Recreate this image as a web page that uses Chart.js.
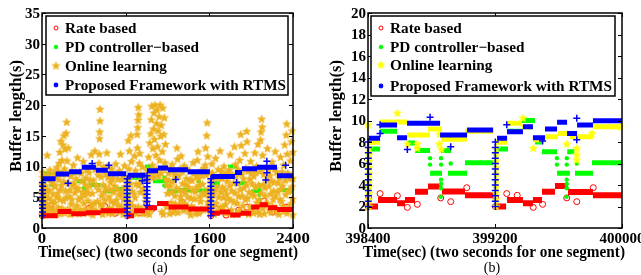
<!DOCTYPE html>
<html><head><meta charset="utf-8">
<script src="https://cdn.jsdelivr.net/npm/chart.js@4.4.1/dist/chart.umd.min.js"></script>
<style>
html,body{margin:0;padding:0;background:#fff;}
body{width:641px;height:275px;overflow:hidden;position:relative;}
canvas{position:absolute;top:0;}
#ca{left:0;}
#cb{left:320px;}
</style></head>
<body>
<canvas id="ca" width="320" height="275"></canvas>
<canvas id="cb" width="321" height="275"></canvas>
<script>
// ---------- shared labels ----------
const seriesNames = ['Rate based', 'PD controller\u2212based', 'Online learning', 'Proposed Framework with RTMS'];
const xTitle = 'Time(sec) (two seconds for one segment)';
const yTitle = 'Buffer length(s)';

// ---------- panel (a) ----------
const xTicksA = [0, 800, 1600, 2400];
const yTicksA = [0, 5, 10, 15, 20, 25, 30, 35];
// bands: [tStart, tEnd, value]
const rateBandsA = [[0,150,2.0],[150,280,2.7],[280,420,2.3],[420,560,2.5],[560,805,2.8],
  [813,880,2.0],[880,985,2.8],[985,1100,3.3],[1100,1210,4.0],[1210,1400,3.4],[1400,1605,3.1],
  [1613,1700,2.4],[1700,1800,2.6],[1800,1900,2.1],[1900,2000,2.4],[2000,2080,3.4],[2080,2160,3.8],[2160,2250,3.3],[2250,2400,3.0]];
const ratePtsA = [[3,2.0],[815,2.0],[1615,2.0],[60,3.3],[80,3.6],[170,3.0],[300,2.5],[450,3.2],[600,3.5],[700,2.4],[870,3.3],[930,2.5],[1000,3.9],[1060,3.2],[1250,2.9],[1340,4.2],[1500,2.6],[1660,3.1],[1760,2.1],[1880,2.9],[1960,3.4],[2120,4.4],[2200,2.6],[2330,3.4]];
const pdBandsA = [[20,90,8.9],[260,330,9.0],[330,420,7.6],[450,560,7.0],[600,700,6.0],[700,800,6.4],
  [830,950,8.2],[985,1060,10.0],[1060,1195,7.6],[1195,1300,6.0],[1300,1400,6.2],[1400,1600,6.1],
  [1620,1700,7.3],[1780,1865,10.0],[1865,1960,7.3],[2000,2100,6.0],[2275,2400,6.2]];
const pdPtsA = [[10,2.0],[10,3.0],[10,4.0],[10,5.0],[10,6.0],[10,7.0],[820,2.5],[820,3.5],[820,4.5],[820,5.5],[820,6.5],[820,7.5],
  [1620,2.5],[1620,3.5],[1620,4.5],[1620,5.5],[1620,6.5],[1170,6.9],[1170,8.2],[2080,7.0],[2080,6.2],[2080,5.4],[2080,4.6],[2380,6.0],[95,7.0],[400,6.5],[1500,7.6]];
const onlineA = [
 [5,2.1],[5,3.4],[5,4.6],[5,5.8],[5,7.0],[8,8.2],[10,9.0],
 [25,2.3],[30,5.2],[35,6.8],[40,3.9],[50,11.8],[55,8.6],[60,2.2],[62,4.8],[70,6.1],[75,9.4],[85,3.1],[90,7.4],[100,2.4],[105,5.5],[110,8.9],[120,4.1],[125,6.7],[135,2.2],[140,9.8],[145,5.0],
 [155,3.3],[160,7.8],[165,10.5],[170,12.3],[175,6.2],[180,14.1],[185,2.5],[190,11.0],[195,8.7],[200,13.5],[205,4.4],[210,15.0],[215,9.6],[220,12.8],[225,6.0],[230,15.4],[236,17.2],[240,10.9],[245,3.0],[250,13.0],[255,7.3],[260,5.1],
 [270,2.2],[275,8.4],[285,4.6],[295,6.9],[300,10.2],[310,2.9],[315,5.7],[325,8.0],[335,3.6],[340,11.4],[345,6.4],[355,2.3],[360,9.1],[370,4.9],[380,7.6],[390,2.6],[395,10.8],
 [405,5.3],[410,3.0],[420,8.1],[425,6.0],[435,2.4],[440,4.4],[450,9.0],[455,6.8],[465,3.3],[470,11.9],[480,5.6],[485,2.1],[490,7.7],[500,4.0],[505,12.5],[510,9.5],[515,2.8],
 [540,6.2],[545,10.5],[548,12.0],[550,14.5],[552,15.6],[555,17.4],[555,19.3],[560,3.8],[565,8.3],[570,5.2],[580,2.2],[585,7.0],[590,9.9],[600,4.5],[605,6.6],[615,2.7],[620,12.2],[625,10.0],[630,8.2],[640,5.0],[645,3.2],[655,7.4],[665,9.6],[670,2.3],[680,5.8],[690,4.0],[700,8.8],[705,10.4],[715,2.6],[720,6.3],[730,3.7],[740,9.3],[750,12.0],[755,5.4],[765,7.9],[775,2.2],[780,4.6],[790,10.1],[795,6.7],
 [815,2.4],[815,3.8],[815,5.1],[815,6.5],[820,7.8],[825,14.2],[830,9.6],[835,12.5],[840,4.2],[850,15.0],[855,10.8],[860,6.0],[870,2.7],[875,8.5],[885,11.7],[890,4.9],[900,7.1],[905,2.3],[910,15.2],[912,13.0],[915,16.3],[918,17.5],[920,19.6],[925,18.4],[930,10.5],[935,12.1],[940,5.8],[945,8.6],[955,3.1],[960,9.9],[970,6.4],[980,2.5],[990,4.3],[1000,8.0],
 [1010,9.4],[1020,11.5],[1025,2.2],[1030,13.8],[1035,8.7],[1040,15.3],[1045,17.6],[1050,19.8],[1055,10.2],[1060,12.9],[1065,16.1],[1070,18.7],[1075,14.4],[1080,20.0],[1085,9.1],[1090,11.8],[1095,17.0],[1100,19.2],[1105,13.2],[1110,15.8],[1115,8.4],[1120,18.1],[1125,11.0],[1130,20.0],[1135,14.9],[1140,16.7],[1145,2.6],[1150,12.4],[1155,19.5],[1160,9.7],[1165,15.2],[1170,17.9],[1175,10.6],[1180,13.6],[1185,7.9],[1190,3.4],
 [1200,5.6],[1210,8.9],[1220,2.3],[1225,6.8],[1235,4.1],[1245,10.3],[1250,7.5],[1260,3.0],[1270,5.2],[1280,8.3],[1290,13.0],[1295,11.2],[1300,2.5],[1310,6.1],[1320,9.6],[1330,11.7],[1335,4.4],[1345,7.2],[1355,2.8],[1360,10.1],[1370,5.7],[1380,8.0],[1390,3.5],[1400,6.6],[1410,9.2],[1420,2.1],[1425,4.8],[1435,7.7],[1445,10.6],
 [1455,3.2],[1465,5.9],[1475,8.4],[1485,11.0],[1492,12.4],[1500,2.4],[1505,6.9],[1515,4.3],[1525,9.3],[1535,7.1],[1545,2.9],[1555,5.4],[1560,10.2],[1565,13.0],[1570,8.6],[1575,15.0],[1580,17.1],[1585,11.6],[1590,6.3],[1595,3.6],[1600,9.0],
 [1615,2.3],[1615,3.6],[1615,4.9],[1618,6.2],[1620,7.5],[1625,10.4],[1635,5.3],[1645,2.2],[1650,8.2],[1660,11.3],[1665,4.0],[1675,6.7],[1685,9.5],[1695,2.8],[1702,12.5],[1710,5.8],[1720,8.0],[1730,3.4],[1740,10.0],[1750,6.2],[1760,2.4],[1770,7.6],[1780,4.7],[1790,9.4],
 [1800,11.9],[1810,2.9],[1815,6.0],[1825,8.6],[1835,4.2],[1840,13.2],[1850,10.3],[1860,2.3],[1870,7.2],[1880,5.1],[1890,11.0],[1900,15.2],[1905,13.4],[1910,8.8],[1920,3.6],[1930,6.5],[1940,12.1],[1950,9.7],[1957,15.7],[1960,14.0],[1965,4.8],[1975,2.2],[1985,7.9],[1995,10.8],
 [2005,5.5],[2015,3.0],[2025,8.4],[2035,12.2],[2040,6.6],[2050,10.0],[2060,2.6],[2065,13.6],[2075,4.5],[2085,9.2],[2090,14.3],[2095,15.6],[2100,17.7],[2105,16.4],[2110,11.8],[2115,7.0],[2125,2.3],[2135,5.2],[2145,9.9],[2155,12.9],[2160,3.9],[2170,6.8],[2180,8.5],[2190,2.5],[2200,10.7],[2210,4.6],[2220,7.4],[2230,12.4],[2240,3.1],[2245,9.0],
 [2255,5.9],[2265,2.2],[2270,8.1],[2280,11.5],[2290,4.3],[2300,6.8],[2310,10.2],[2315,2.7],[2320,13.5],[2330,5.4],[2335,15.1],[2340,16.9],[2345,12.0],[2350,8.9],[2360,3.3],[2365,6.1],[2375,10.9],[2385,14.0],[2390,15.8],[2395,4.7],[2398,2.1],[2398,8.0],[2398,12.3],
 [15,4.0],[18,6.2],[28,8.1],[45,2.8],[48,5.9],[65,3.5],[80,7.9],[95,4.4],[115,2.9],[118,6.9],[130,8.2],[150,5.6],[158,9.2],[168,2.3],[172,4.6],[188,6.9],[198,3.1],[208,7.5],[218,2.4],[228,4.9],[248,8.8],[265,6.1],[280,3.8],[290,9.2],[305,7.2],[320,2.4],[330,6.3],[350,4.6],[365,2.9],[375,8.9],[385,5.8],[400,4.0],[415,7.0],[430,9.4],[445,5.6],[460,7.8],[475,3.8],[495,2.8],[520,6.9],[530,4.3],[535,8.6],[575,3.6],[595,5.8],[610,8.7],[635,2.4],[650,6.3],[660,4.3],[675,8.0],[685,2.9],[695,6.8],[710,4.5],[725,7.9],[735,5.4],[745,2.8],[760,3.4],[770,6.0],[785,8.3],[800,3.0],
 [845,7.2],[865,3.6],[880,5.5],[895,9.3],[920,3.4],[925,6.9],[950,7.6],[965,2.3],[975,8.6],[985,5.4],[995,2.4],[1015,7.9],[1038,3.0],[1068,8.2],[1100,9.6],[1140,8.9],[1160,2.2],[1188,9.8],[1195,6.9],[1205,3.6],[1215,7.7],[1230,9.5],[1240,5.8],[1255,2.5],[1265,8.8],[1275,3.9],[1285,6.5],[1305,8.4],[1315,3.7],[1325,5.1],[1340,9.1],[1350,6.0],[1365,3.9],[1375,7.0],[1385,9.6],[1395,5.0],[1405,2.7],[1415,7.8],[1430,3.5],[1440,6.1],[1450,8.9],[1460,4.7],[1470,2.3],[1480,6.6],[1495,8.0],[1510,5.1],[1520,3.0],[1530,8.5],[1540,5.7],[1550,9.7],[1585,4.2],[1605,5.5],
 [1630,8.9],[1640,3.6],[1655,6.0],[1670,2.6],[1680,8.1],[1690,5.0],[1705,3.3],[1715,9.2],[1725,6.6],[1735,4.9],[1745,8.6],[1755,3.8],[1765,5.5],[1775,9.0],[1785,2.6],[1795,6.8],[1805,4.5],[1820,2.2],[1830,7.3],[1845,5.7],[1855,8.4],[1865,4.0],[1875,9.5],[1885,2.8],[1895,6.2],[1915,5.2],[1925,8.0],[1935,2.5],[1945,4.6],[1955,7.0],[1970,9.2],[1980,5.8],[1990,3.4],[2000,8.9],[2010,7.2],[2020,2.4],[2030,5.2],[2045,9.0],[2055,4.1],[2070,6.9],[2080,2.2],[2095,5.6],[2110,3.2],[2120,8.7],[2130,6.5],[2140,4.0],[2150,7.8],[2165,9.4],[2175,2.9],[2185,5.5],[2195,7.6],[2205,3.5],[2215,6.0],[2225,9.6],[2235,5.2],[2250,2.5],[2260,7.3],[2275,4.6],[2285,6.3],[2295,9.1],[2305,3.5],[2325,7.7],[2340,2.4],[2355,5.9],[2370,8.0],[2380,3.9],[2390,6.7]
];
const propBandsA = [[5,130,8.0],[130,260,8.8],[260,380,9.15],[380,515,9.9],[515,630,9.4],[630,805,8.85],
  [818,990,8.6],[1004,1109,9.3],[1109,1205,9.75],[1205,1396,9.5],[1396,1605,9.15],
  [1618,1845,8.4],[1845,1912,9.05],[1912,2056,9.65],[2056,2247,9.9],[2247,2400,8.5]];
const propPtsA = [[5,2.0],[5,2.6],[5,3.2],[5,3.8],[5,4.4],[5,5.0],[5,5.6],[5,6.2],[5,6.8],[5,7.4],
  [815,2.0],[815,2.6],[815,3.2],[815,3.8],[815,4.4],[815,5.0],[815,5.6],[815,6.2],[815,6.8],[815,7.4],[815,8.0],
  [1004,3.7],[1004,4.3],[1004,4.9],[1004,5.5],[1004,6.1],[1004,6.7],[1004,7.3],[1004,7.9],[1004,8.5],
  [1615,2.0],[1615,2.6],[1615,3.2],[1615,3.8],[1615,4.4],[1615,5.0],[1615,5.6],[1615,6.2],[1615,6.8],[1615,7.4],[1615,8.0],
  [249,7.3],[960,7.7],[1280,7.9],[1860,7.4],[2150,10.85],[2150,9.0],[2140,7.8],[2330,10.2],[640,10.2],[480,10.5]];

// ---------- panel (b) ----------
const xTicksB = [398400, 399200, 400000];
const yTicksB = [0, 2, 4, 6, 8, 10, 12, 14, 16, 18, 20];
const rateBandsB = [[398400,398463,2.0],[398463,398583,2.6],[398583,398633,2.3],[398633,398696,2.6],[398696,398778,3.38],[398778,398866,3.85],[398866,399011,3.4],[399011,399190,3.05],
  [399200,399270,2.0],[399276,399376,2.6],[399376,399439,2.3],[399439,399496,2.6],[399496,399578,3.38],[399578,399660,3.9],[399660,399817,3.35],[399817,400000,3.05]];
const ratePtsB = [[398402,2.0],[398404,2.9],[398476,3.2],[398585,3.0],[398648,1.92],[398711,2.2],[398858,2.8],[398921,2.45],[399022,3.75],
  [399202,2.0],[399204,2.9],[399274,3.2],[399340,3.04],[399441,1.92],[399500,2.2],[399652,2.8],[399715,2.45],[399819,3.75]];
const pdBandsB = [[398400,398476,7.35],[398476,398583,9.0],[398646,398696,7.9],[398696,398791,7.2],[398791,398866,5.1],[398860,398923,7.2],[398904,399024,5.1],[399011,399190,6.07],
  [399200,399282,7.35],[399276,399370,9.0],[399370,399452,10.0],[399452,399496,8.0],[399496,399591,7.1],[399591,399672,5.1],[399655,399700,7.1],[399704,399817,5.1],[399811,400000,6.07]];
const pdPtsB = [[398404,2.0],[398404,2.6],[398404,3.2],[398404,3.8],[398404,4.4],[398404,5.0],[398404,5.6],[398404,6.2],[398404,6.8],
  [399204,2.0],[399204,2.6],[399204,3.2],[399204,3.8],[399204,4.4],[399204,5.0],[399204,5.6],[399204,6.2],[399204,6.8],
  [398791,6.5],[398791,5.9],[398860,6.5],[398860,5.9],[398860,4.5],[398860,4.1],[398860,3.7],[398858,2.9],[398921,6.0],
  [399590,6.5],[399590,5.9],[399652,6.5],[399652,5.9],[399652,4.5],[399652,4.1],[399652,3.7],[399650,2.9],[399715,6.0]];
const onlineBandsB = [[398400,398476,7.97],[398476,398646,9.85],[398646,398791,8.65],[398778,398866,9.2],[398860,399024,8.25],[399011,399190,9.0],
  [399200,399276,7.97],[399276,399370,9.74],[399370,399439,9.4],[399439,399515,8.2],[399515,399597,8.5],[399597,399672,8.8],[399672,399817,8.5],[399817,400000,9.42]];
const onlinePtsB = [[398406,2.0],[398406,2.6],[398406,3.2],[398406,3.8],[398406,4.4],[398406,5.0],[398406,5.6],[398406,6.2],[398406,6.8],[398406,7.4],[398400,9.58],
  [399206,2.0],[399206,2.6],[399206,3.2],[399206,3.8],[399206,4.4],[399206,5.0],[399206,5.6],[399206,6.2],[399206,6.8],[399206,7.4],
  [398585,10.67],[398648,7.8],[398711,7.8],[398711,7.4],[398850,7.8],[398850,8.7],[398862,7.3],
  [399376,10.2],[399441,7.4],[399652,7.8],[399715,7.4],[399715,6.8],[399715,6.3],[399811,8.8],[399990,9.4]];
const propBandsB = [[398406,398476,8.34],[398476,398583,9.58],[398583,398646,8.4],[398646,398854,9.74],[398854,399024,8.65],[399024,399188,9.12],
  [399213,399276,8.34],[399276,399376,8.96],[399376,399439,9.42],[399439,399515,8.4],[399515,399591,9.2],[399591,399654,9.83],[399654,399717,8.8],[399717,399817,9.58],[399817,400000,9.98]];
const propPtsB = [[398402,2.0],[398402,2.5],[398402,3.0],[398402,3.5],[398402,4.0],[398402,4.5],[398402,5.0],[398402,5.5],[398402,6.0],[398402,6.5],[398402,7.0],[398402,7.5],[398402,8.0],
  [399202,2.0],[399202,2.5],[399202,3.0],[399202,3.5],[399202,4.0],[399202,4.5],[399202,5.0],[399202,5.5],[399202,6.0],[399202,6.5],[399202,7.0],[399202,7.5],[399202,8.0],
  [398476,9.6],[398476,8.8],[398648,7.3],[398791,10.3],[398921,7.56],[399274,9.6],[399500,8.1],[399715,10.2],[399715,8.2]];

// ---------- helpers ----------
function starCanvas(color, r) {
  const s = Math.ceil(r * 2 + 2);
  const c = document.createElement('canvas'); c.width = s; c.height = s;
  const g = c.getContext('2d'); g.translate(s / 2, s / 2);
  g.beginPath();
  for (let i = 0; i < 10; i++) {
    const rr = i % 2 ? r * 0.45 : r;
    const a = -Math.PI / 2 + i * Math.PI / 5;
    g.lineTo(rr * Math.cos(a), rr * Math.sin(a));
  }
  g.closePath(); g.fillStyle = color; g.fill();
  g.strokeStyle = color; g.lineWidth = 0.6; g.stroke();
  return c;
}
function bandData(bands) {
  const out = [];
  for (const [a, b, v] of bands) { out.push({x: a, y: v}, {x: b, y: v}, {x: b, y: null}); }
  return out;
}
function ptData(pts) { return pts.map(([x, y]) => ({x, y})); }

const RED = '#ff0000', GREEN = '#00ff00', BLUE = '#0000ff', ORANGE = '#edb120', YELLOW = '#ffff00';

function bandSet(bands, color, w, order) {
  return {data: bandData(bands), showLine: true, spanGaps: false, borderColor: color, borderWidth: w,
    pointRadius: 0, borderCapStyle: 'butt', order, clip: false};
}
function ptSet(pts, style, order) {
  return Object.assign({data: ptData(pts), showLine: false, order, clip: false}, style);
}

const styles = {
  rate: {pointStyle: 'circle', pointRadius: 3, borderColor: RED, backgroundColor: 'rgba(0,0,0,0)', pointBorderWidth: 1},
  pd: {pointStyle: 'circle', pointRadius: 2.2, borderColor: GREEN, backgroundColor: GREEN, pointBorderWidth: 0},
  prop: {pointStyle: 'cross', pointRadius: 3.5, borderColor: BLUE, backgroundColor: BLUE, pointBorderWidth: 1.5},
};
function starStyle(color) { return {pointStyle: starCanvas(color, 4.2), pointRadius: 4, borderColor: color, backgroundColor: color}; }

function wText(ctx, text, x, y, targetW) {
  const w = ctx.measureText(text).width;
  const s = targetW ? targetW / w : 1;
  ctx.save(); ctx.translate(x, y); ctx.scale(s, 1); ctx.fillText(text, 0, 0); ctx.restore();
}

function framePlugin(opt) {
  return {
    id: 'frame',
    afterDraw(chart) {
      const ctx = chart.ctx, a = chart.chartArea, xs = chart.scales.x, ys = chart.scales.y;
      ctx.save();
      ctx.strokeStyle = '#000'; ctx.fillStyle = '#000'; ctx.lineWidth = 1.5;
      ctx.strokeRect(a.left, a.top, a.right - a.left, a.bottom - a.top);
      ctx.lineWidth = 1;
      ctx.beginPath();
      for (const t of opt.xTicks) { const px = Math.round(xs.getPixelForValue(t)) + 0.5;
        ctx.moveTo(px, a.bottom); ctx.lineTo(px, a.bottom - 4); ctx.moveTo(px, a.top); ctx.lineTo(px, a.top + 4); }
      for (const t of opt.yTicks) { const py = Math.round(ys.getPixelForValue(t)) + 0.5;
        ctx.moveTo(a.left, py); ctx.lineTo(a.left + 4, py); ctx.moveTo(a.right, py); ctx.lineTo(a.right - 4, py); }
      ctx.stroke();
      // tick labels
      ctx.font = 'bold 15px "Liberation Serif"';
      ctx.textAlign = 'right'; ctx.textBaseline = 'middle';
      for (const t of opt.yTicks) ctx.fillText(String(t), a.left - 2, ys.getPixelForValue(t) + 1);
      ctx.textAlign = 'center'; ctx.textBaseline = 'alphabetic';
      for (const t of opt.xTicks) wText(ctx, String(t), xs.getPixelForValue(t), a.bottom + 15, opt.xLabelScale ? ctx.measureText(String(t)).width * opt.xLabelScale : 0);
      // x title
      ctx.font = 'bold 16px "Liberation Serif"';
      wText(ctx, xTitle, opt.xTitleX, 257, opt.xTitleW);
      // caption
      ctx.font = '14px "Liberation Serif"';
      ctx.fillText(opt.caption, opt.captionX, 272);
      // y title
      ctx.save(); ctx.translate(opt.yTitleX, 116); ctx.rotate(-Math.PI / 2);
      ctx.font = 'bold 16px "Liberation Serif"'; ctx.textBaseline = 'middle';
      wText(ctx, yTitle, 0, 0, 112);
      ctx.restore();
      // legend
      const L = opt.legend;
      ctx.fillStyle = '#fff'; ctx.fillRect(L.x, L.y, L.w, L.h);
      ctx.strokeStyle = '#000'; ctx.lineWidth = 1.5; ctx.strokeRect(L.x, L.y, L.w, L.h);
      ctx.font = 'bold 15px "Liberation Serif"'; ctx.textAlign = 'left'; ctx.textBaseline = 'middle';
      const lscale = L.textW / ctx.measureText(seriesNames[3]).width;
      const ds = chart.data.datasets;
      L.rows.forEach((ry, i) => {
        const d = ds[opt.legendSets[i]];
        ctx.save();
        ctx.strokeStyle = d.borderColor; ctx.fillStyle = d.backgroundColor;
        ctx.lineWidth = i === 3 ? 1.2 : (d.pointBorderWidth || 1);
        const r = i === 0 ? 2 : (i === 1 ? 1.8 : (i === 3 ? 1.8 : d.pointRadius));
        Chart.helpers.drawPoint(ctx, {pointStyle: i === 3 ? 'circle' : d.pointStyle, radius: r, rotation: 0, borderWidth: ctx.lineWidth}, L.mx, ry);
        ctx.restore();
        ctx.fillStyle = '#000';
        wText(ctx, seriesNames[i], L.tx, ry + 1, ctx.measureText(seriesNames[i]).width * lscale);
      });
      ctx.restore();
    }
  };
}

function make(id, cfg) {
  return new Chart(document.getElementById(id), {
    type: 'scatter',
    data: {datasets: cfg.datasets},
    options: {
      responsive: false, animation: false, devicePixelRatio: 1, events: [],
      layout: {padding: cfg.padding},
      plugins: {legend: {display: false}, tooltip: {enabled: false}},
      scales: {
        x: {type: 'linear', min: cfg.xmin, max: cfg.xmax, display: false},
        y: {type: 'linear', min: cfg.ymin, max: cfg.ymax, display: false}
      }
    },
    plugins: [framePlugin(cfg.frame)]
  });
}

// panel (a)
make('ca', {
  xmin: 0, xmax: 2400, ymin: 0, ymax: 35,
  padding: {left: 42, right: 27, top: 13, bottom: 47},
  datasets: [
    ptSet(ratePtsA, styles.rate, 3),
    ptSet(pdPtsA, styles.pd, 2),
    ptSet(onlineA, starStyle(ORANGE), 1),
    ptSet(propPtsA, styles.prop, 0),
    bandSet(rateBandsA, RED, 5, 0.6),
    bandSet(pdBandsA, GREEN, 4, 1.5),
    bandSet(propBandsA, BLUE, 5, 0)
  ],
  frame: {xTicks: xTicksA, yTicks: yTicksA, caption: '(a)', captionX: 160, xTitleX: 168, xTitleW: 260, yTitleX: 17, xLabelScale: 1.12,
    legendSets: [0, 1, 2, 3],
    legend: {x: 46, y: 16, w: 242, h: 79, rows: [28, 47, 66, 85], mx: 56, tx: 65, textW: 221}}
});

// panel (b)
make('cb', {
  xmin: 398400, xmax: 400000, ymin: 0, ymax: 20,
  padding: {left: 48, right: 19, top: 13, bottom: 47},
  datasets: [
    ptSet(ratePtsB, styles.rate, 3),
    ptSet(pdPtsB, styles.pd, 2),
    ptSet(onlinePtsB, starStyle(YELLOW), 1),
    ptSet(propPtsB, styles.prop, 0),
    bandSet(rateBandsB, RED, 6, 3),
    bandSet(pdBandsB, GREEN, 5, 2),
    bandSet(onlineBandsB, YELLOW, 5, 1),
    bandSet(propBandsB, BLUE, 5, 0)
  ],
  frame: {xTicks: xTicksB, yTicks: yTicksB, caption: '(b)', captionX: 172, xTitleX: 174, xTitleW: 262, yTitleX: 17, xLabelScale: 0,
    legendSets: [0, 1, 2, 3],
    legend: {x: 51, y: 16, w: 244, h: 80, rows: [28, 47, 65, 86], mx: 61, tx: 70, textW: 222}}
});
</script>
</body></html>
